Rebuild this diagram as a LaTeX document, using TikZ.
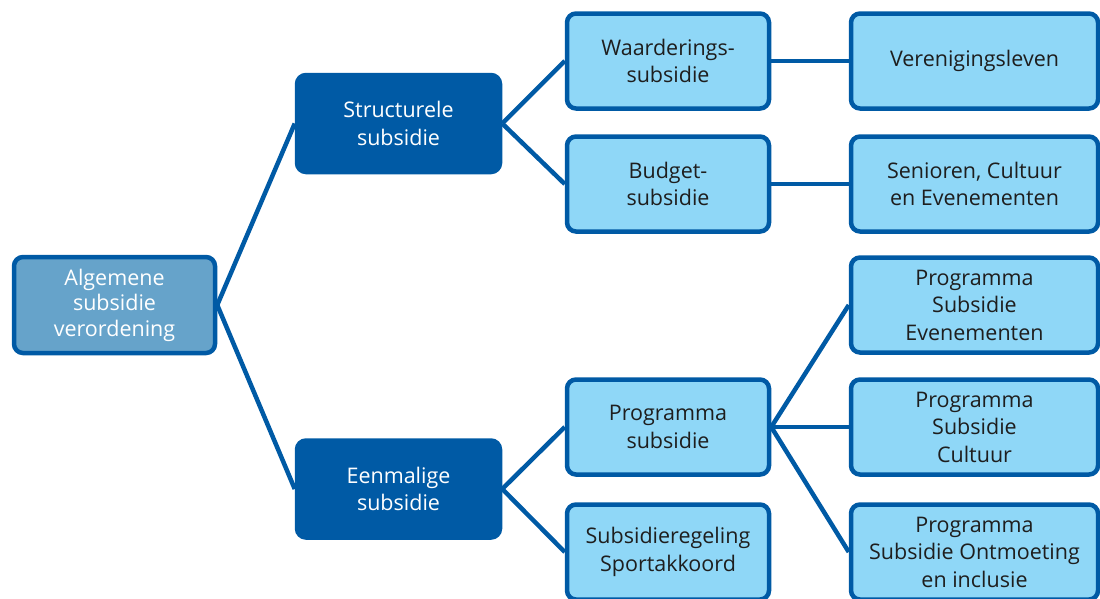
\documentclass[tikz,border=0pt]{standalone}
\usepackage{fontspec}
\setmainfont{Open Sans}
\usepackage{tikz}
\definecolor{darkblue}{HTML}{005AA5}
\definecolor{lightblue}{HTML}{8FD7F7}
\definecolor{midblue}{HTML}{66A3CA}
\definecolor{textgray}{HTML}{1E1E1E}
\tikzset{
    box/.style={rounded corners=9pt, line width=4.5pt, draw=darkblue, align=center, inner sep=0pt, font=\fontsize{21.5}{27.5}\selectfont},
    rootbox/.style={box, fill=midblue, text=white, minimum width=201pt, minimum height=96pt, font=\fontsize{21.5}{25.5}\selectfont},
    mainbox/.style={box, fill=darkblue, text=white, minimum width=203pt, minimum height=97pt},
    subbox/.style={box, fill=lightblue, text=textgray, minimum width=202pt, minimum height=95pt},
    leafbox/.style={box, fill=lightblue, text=textgray, minimum width=247pt, minimum height=95pt},
    link/.style={draw=darkblue, line width=4.5pt}
}

\begin{document}
\begin{tikzpicture}[x=1pt, y=-1pt]
    \useasboundingbox (0,0) rectangle (1100,598);

    % Root and main branches
    \node [rootbox] (root) at (114.5,305) {Algemene\\subsidie\\verordening};
    \node [mainbox] (struct) at (398.5,123.5) {Structurele\\subsidie};
    \node [mainbox] (eenm) at (398.5,489) {Eenmalige\\subsidie};

    % Sub branches
    \node [subbox] (waard) at (668,61) {Waarderings-\\subsidie};
    \node [subbox] (budget) at (668,184) {Budget-\\subsidie};
    \node [subbox] (prog) at (668,427) {Programma\\subsidie};
    \node [subbox] (sport) at (668,552) {Subsidieregeling\\Sportakkoord};

    % Leaves
    \node [leafbox] (veren) at (974.5,61) {Verenigingsleven};
    \node [leafbox] (senior) at (974.5,184) {Senioren, Cultuur\\en Evenementen};
    \node [leafbox] (pse) at (974.5,305) {Programma\\Subsidie\\Evenementen};
    \node [leafbox] (psc) at (974.5,427) {Programma\\Subsidie\\Cultuur};
    \node [leafbox] (pso) at (974.5,552) {Programma\\Subsidie Ontmoeting\\en inclusie};

    % Connectors
    \foreach \from/\to in {root/struct, root/eenm, struct/waard, struct/budget,
        eenm/prog, eenm/sport, waard/veren, budget/senior, prog/pse, prog/psc, prog/pso} {
        \draw [link] (\from.east) -- (\to.west);
    }
\end{tikzpicture}
\end{document}
